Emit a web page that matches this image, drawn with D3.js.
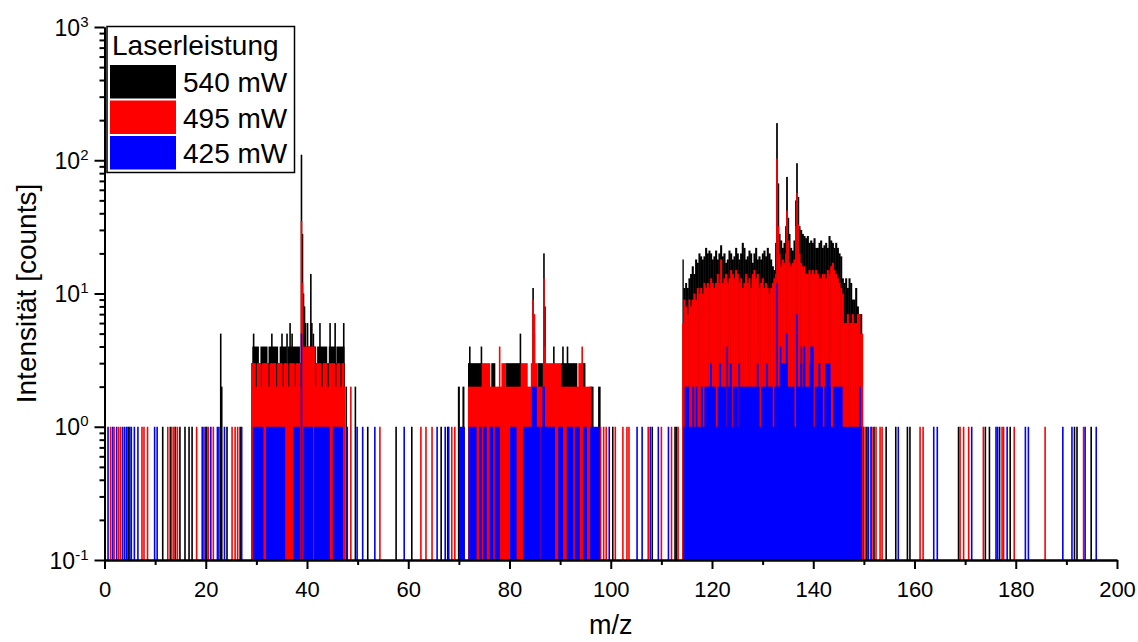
<!DOCTYPE html>
<html>
<head>
<meta charset="utf-8">
<script src="https://cdn.jsdelivr.net/npm/d3@7"></script>
<style>
  body { margin: 0; background: #fff; }
  svg { font-family: "Liberation Sans", Arial, sans-serif; }
</style>
</head>
<body>
<svg id="chart" width="1138" height="642"></svg>
<script>
// legend / series
var seriesNames = ["540 mW", "495 mW", "425 mW"];
var xTicks = [0, 20, 40, 60, 80, 100, 120, 140, 160, 180, 200];
var yTicks = [0.1, 1, 10, 100, 1000];
var yTickExp = ["-1", "0", "1", "2", "3"];

// single bins with 1 count (m/z)
var blackLines = [4.7, 11.5, 13.0, 14.0, 14.9, 15.9, 16.7, 17.3, 20.2, 24.2, 26.8,
  52.0, 57.6, 60.7, 66.5, 67.8, 100.4, 108.2, 112.7, 113.0,
  149.9, 150.6, 152.0, 154.4, 156.3, 158.6, 159.1, 168.7, 174.0, 174.8, 176.8, 178.9,
  191.6, 192.1, 194.9];
var redLines = [1.2, 1.9, 2.8, 3.2, 7.4, 7.8, 8.5, 12.5, 13.3, 13.7, 14.4, 18.2, 19.6,
  20.5, 21.5, 25.2, 25.8, 26.3, 54.4, 62.5, 63.5, 64.7, 68.6, 69.2,
  98.0, 98.6, 99.1, 100.9, 102.4, 103.2, 103.6, 107.4, 110.0, 112.0, 113.3,
  150.25, 151.6, 152.4, 153.2, 153.6, 161.1, 161.7, 169.0, 169.7, 170.7, 173.6,
  177.3, 177.6, 179.7, 185.8, 193.4];
var blueLines = [0.7, 1.6, 2.4, 3.6, 4.0, 4.4, 5.0, 5.3, 5.9, 6.6, 9.9, 10.4, 19.3,
  19.9, 21.0, 22.3, 22.6, 23.7, 27.1, 49.9, 51.0, 53.4, 59.2, 65.7, 67.3, 68.0,
  99.7, 105.2, 106.2, 107.8, 109.4, 111.4, 150.9, 151.4, 156.8, 163.8, 164.5,
  171.3, 176.1, 176.4, 178.3, 181.9, 182.5, 189.3, 191.1, 193.7, 195.9];

// [from m/z, to m/z, counts]
var blackBars = [
  [22.8, 23.0, 5], [23.0, 23.2, 2],
  [29.0, 47.5, 3],
  [29.2, 30.5, 4], [30.8, 32.2, 4], [32.4, 34.3, 4], [34.6, 36.0, 4], [36.2, 38.6, 4],
  [39.2, 41.8, 4], [42.0, 44.0, 4], [44.3, 45.6, 4], [45.8, 47.4, 4],
  [29.3, 29.5, 5], [32.9, 33.1, 5], [34.9, 35.1, 5], [35.9, 36.1, 5], [36.5, 36.7, 6],
  [36.9, 37.1, 5],
  [38.75, 38.95, 110], [38.95, 39.15, 28], [39.15, 39.35, 10], [39.35, 39.55, 8],
  [39.55, 39.75, 6], [39.95, 40.15, 6], [40.6, 40.8, 14], [40.8, 41.0, 6], [41.1, 41.3, 5],
  [42.4, 42.6, 6], [44.4, 44.6, 6], [45.4, 45.6, 6], [47.1, 47.3, 6],
  [47.6, 47.8, 2], [49.4, 49.6, 2],
  [69.8, 70.2, 2], [70.7, 71.1, 2], [95.8, 96.6, 2], [97.5, 98.0, 2],
  [71.8, 74.6, 3], [76.4, 77.2, 3], [79.3, 82.2, 3], [85.6, 86.6, 3], [90.2, 93.4, 3],
  [94.4, 95.0, 3],
  [72.0, 72.2, 4], [74.3, 74.5, 4], [82.0, 82.2, 5], [88.6, 88.8, 4], [90.4, 90.6, 4],
  [91.3, 91.5, 4],
  [84.5, 84.75, 11], [84.75, 85.0, 5], [86.65, 86.85, 20], [86.85, 87.05, 8]
];
var redBars = [
  [29.0, 47.6, 2],
  [29.0, 29.9, 3], [30.1, 30.9, 3], [31.1, 32.4, 3], [32.6, 33.9, 3], [34.1, 35.2, 3],
  [35.4, 36.3, 3], [36.5, 37.6, 3], [37.8, 38.7, 3], [39.0, 41.6, 3], [41.8, 42.9, 3],
  [43.1, 44.1, 3], [44.3, 45.6, 3], [45.8, 46.6, 3], [46.8, 47.4, 3],
  [39.15, 41.6, 4],
  [38.75, 38.95, 35], [38.95, 39.15, 12],
  [48.5, 48.7, 2],
  [71.8, 96.2, 2],
  [74.5, 76.2, 3], [78.4, 79.3, 3], [82.2, 83.6, 3], [84.2, 85.6, 3], [86.7, 90.2, 3],
  [93.6, 94.4, 3],
  [77.9, 78.2, 4], [94.2, 94.4, 4],
  [84.5, 84.75, 9], [84.75, 85.1, 7], [86.65, 86.85, 13], [86.85, 87.1, 4]
];
var blueBars = [
  [29.3, 31.4, 1], [31.9, 35.7, 1], [37.3, 38.6, 1], [38.75, 38.95, 5], [39.3, 41.2, 1],
  [41.4, 44.5, 1], [45.1, 47.1, 1], [47.8, 48.1, 1],
  [70.2, 71.2, 1], [71.9, 73.5, 1], [74.0, 74.5, 1], [74.8, 75.5, 1], [76.1, 76.8, 1],
  [77.1, 78.1, 1], [80.1, 81.4, 1], [82.7, 86.0, 1], [86.1, 89.0, 1], [89.6, 90.6, 1],
  [91.3, 92.6, 1], [92.9, 93.9, 1], [94.6, 95.3, 1], [95.9, 97.9, 1],
  [84.4, 85.4, 2], [86.5, 87.0, 2],
  [114.3, 149.6, 1],
  [114.6, 115.5, 2], [116.1, 116.5, 2], [116.8, 117.1, 2], [117.8, 118.2, 2],
  [118.5, 120.8, 2], [121.1, 122.8, 2], [123.1, 123.8, 2], [124.1, 125.1, 2],
  [125.4, 129.4, 2], [129.7, 132.0, 2], [132.3, 136.3, 2], [136.6, 139.9, 2],
  [140.3, 141.9, 2], [142.2, 143.5, 2], [143.9, 145.8, 2], [149.1, 149.3, 2],
  [119.6, 119.95, 3], [121.5, 121.75, 3], [123.5, 123.9, 3], [125.2, 125.55, 3],
  [128.85, 129.2, 3], [130.7, 130.95, 3], [133.4, 135.0, 3], [137.4, 137.8, 3],
  [138.0, 138.4, 3], [139.3, 139.5, 3], [141.0, 141.4, 3], [142.35, 143.4, 3],
  [122.85, 123.05, 4], [133.4, 133.6, 4], [137.5, 137.7, 4], [138.1, 138.3, 4],
  [139.4, 139.6, 4], [139.75, 139.95, 4],
  [132.7, 132.95, 12], [134.6, 134.85, 5], [136.62, 136.88, 7]
];

// 114-150 envelope: [m/z, counts] until next entry
var blackEnv = [
  [114.16, 18], [114.35, 11], [114.7, 12], [115.01, 11], [115.34, 13], [115.67, 14],
  [116.0, 16], [116.33, 14], [116.66, 18], [116.99, 17], [117.32, 20], [117.65, 19],
  [117.98, 18], [118.31, 19], [118.64, 22], [118.97, 20], [119.3, 21], [119.62, 20],
  [119.95, 18], [120.28, 19], [120.61, 21], [120.94, 18], [121.27, 20], [121.6, 23],
  [121.93, 19], [122.26, 20], [122.59, 17], [122.92, 18], [123.25, 21], [123.58, 20],
  [123.91, 18], [124.24, 19], [124.57, 22], [124.9, 20], [125.22, 18], [125.55, 20],
  [125.88, 24], [126.21, 22], [126.54, 18], [126.87, 19], [127.2, 21], [127.53, 20],
  [127.86, 17], [128.19, 20], [128.52, 22], [128.85, 18], [129.18, 19], [129.51, 18],
  [129.84, 20], [130.16, 21], [130.49, 19], [130.82, 22], [131.15, 20], [131.48, 18],
  [131.81, 16], [132.14, 15], [132.47, 24], [132.67, 190], [132.93, 67], [133.2, 28],
  [133.46, 25], [133.79, 22], [134.12, 24], [134.45, 32], [134.64, 75], [134.91, 37],
  [135.17, 28], [135.43, 22], [135.76, 21], [136.09, 25], [136.42, 50], [136.62, 95],
  [136.88, 53], [137.15, 32], [137.41, 30], [137.74, 28], [138.07, 27], [138.4, 26],
  [138.73, 27], [139.06, 24], [139.39, 25], [139.72, 24], [140.05, 26], [140.38, 22],
  [140.71, 22], [141.04, 24], [141.36, 25], [141.69, 22], [142.02, 23], [142.35, 24],
  [142.68, 22], [143.01, 27], [143.34, 25], [143.67, 24], [144.0, 22], [144.33, 24],
  [144.66, 22], [144.99, 20], [145.32, 19], [145.65, 13], [145.97, 12], [146.3, 13],
  [146.63, 11], [146.96, 13], [147.29, 12], [147.62, 9], [147.95, 9], [148.28, 11],
  [148.61, 8], [148.94, 7], [149.27, 7], [149.6, null]
];
var redEnv = [
  [114.1, 6], [114.35, 9], [114.7, 8], [115.01, 7], [115.34, 9], [115.67, 8],
  [116.0, 9], [116.33, 10], [116.66, 9], [116.99, 11], [117.32, 10], [117.65, 11],
  [117.98, 10], [118.31, 12], [118.64, 11], [118.97, 12], [119.3, 11], [119.62, 13],
  [119.95, 12], [120.28, 11], [120.61, 12], [120.94, 14], [121.27, 12], [121.6, 18],
  [121.93, 12], [122.26, 13], [122.59, 14], [122.92, 12], [123.25, 13], [123.58, 15],
  [123.91, 14], [124.24, 13], [124.57, 15], [124.9, 14], [125.22, 12], [125.55, 13],
  [125.88, 11], [126.21, 12], [126.54, 14], [126.87, 12], [127.2, 13], [127.53, 11],
  [127.86, 14], [128.19, 15], [128.52, 13], [128.85, 14], [129.18, 11], [129.51, 12],
  [129.84, 13], [130.16, 11], [130.49, 12], [130.82, 11], [131.15, 10], [131.48, 11],
  [131.81, 12], [132.14, 13], [132.47, 14], [132.67, 103], [132.93, 32], [133.2, 20],
  [133.46, 16], [133.79, 18], [134.12, 17], [134.45, 20], [134.64, 42], [134.91, 25],
  [135.17, 17], [135.43, 16], [135.76, 17], [136.09, 18], [136.42, 32], [136.62, 57],
  [136.88, 33], [137.15, 20], [137.41, 17], [137.74, 16], [138.07, 16], [138.4, 14],
  [138.73, 14], [139.06, 15], [139.39, 14], [139.72, 15], [140.05, 14], [140.38, 15],
  [140.71, 14], [141.04, 13], [141.36, 13], [141.69, 14], [142.02, 14], [142.35, 13],
  [142.68, 15], [143.01, 14], [143.34, 16], [143.67, 17], [144.0, 15], [144.33, 14],
  [144.66, 13], [144.99, 12], [145.32, 11], [145.65, 10], [145.97, 6], [146.3, 6],
  [146.63, 7], [146.96, 6], [147.29, 6], [147.62, 7], [147.95, 6], [148.28, 6],
  [148.61, 7], [148.94, 7], [149.27, 5], [149.8, null]
];

var colors = ["#000000", "#ff0000", "#0000ff"];
var lineW = 1.6;

var svg = d3.select("#chart");

var x = d3.scaleLinear().domain([0, 200]).range([104.5, 1117]);
var y = d3.scaleLog().domain([0.1, 1000]).range([560, 27]);
var y0 = y(0.1);

function envBars(env) {
  return d3.pairs(env).map(p => [p[0][0], p[1][0], p[0][1]]);
}

function drawSeries(color, lines, bars, env) {
  var g = svg.append("g").attr("fill", color);
  if (env) {
    g.append("g").selectAll("rect")
      .data(envBars(env))
      .join("rect")
      .attr("x", d => x(d[0]))
      .attr("width", d => x(d[1]) - x(d[0]) + 0.4)
      .attr("y", d => y(d[2]))
      .attr("height", d => y0 - y(d[2]));
  }
  g.append("g").selectAll("rect")
    .data(bars)
    .join("rect")
    .attr("x", d => x(d[0]))
    .attr("width", d => Math.max(x(d[1]) - x(d[0]), lineW))
    .attr("y", d => y(d[2]))
    .attr("height", d => y0 - y(d[2]));
  g.append("g").selectAll("rect")
    .data(lines)
    .join("rect")
    .attr("x", d => x(d) - lineW / 2)
    .attr("width", lineW)
    .attr("y", y(1))
    .attr("height", y0 - y(1));
}

drawSeries(colors[0], blackLines, blackBars, blackEnv);
drawSeries(colors[1], redLines, redBars, redEnv);
drawSeries(colors[2], blueLines, blueBars, null);

/* Axes */
var minorX = d3.range(10, 200, 20);
var minorY = [];
[0.1, 1, 10, 100].forEach(function(d) {
  for (var k = 2; k <= 9; k++) minorY.push(d * k);
});

function styleAxis(g) {
  g.select(".domain").attr("stroke-width", 2);
  g.selectAll(".tick line").attr("stroke-width", 2);
}

svg.append("g")
  .attr("transform", `translate(0, ${y0})`)
  .call(d3.axisBottom(x).tickValues(minorX).tickSize(5).tickSizeOuter(0).tickFormat(""))
  .call(styleAxis);

svg.append("g")
  .attr("class", "x axis")
  .attr("transform", `translate(0, ${y0})`)
  .call(d3.axisBottom(x).tickValues(xTicks).tickSize(9).tickSizeOuter(0).tickPadding(12))
  .call(styleAxis)
  .selectAll("text")
  .attr("font-size", 22)
  .attr("font-family", "Liberation Sans, Arial, sans-serif")
  .attr("fill", "#000");

svg.append("g")
  .attr("transform", `translate(${x(0)}, 0)`)
  .call(d3.axisLeft(y).tickValues(minorY).tickSize(5).tickSizeOuter(0).tickFormat(""))
  .call(styleAxis);

var yAxisG = svg.append("g")
  .attr("class", "y axis")
  .attr("transform", `translate(${x(0)}, 0)`)
  .call(d3.axisLeft(y).tickValues(yTicks).tickSize(10).tickSizeOuter(0).tickFormat(""))
  .call(styleAxis);

yAxisG.selectAll(".tick").each(function(d, i) {
  var t = d3.select(this).append("text")
    .attr("x", -16)
    .attr("y", 8)
    .attr("text-anchor", "end")
    .attr("fill", "#000")
    .attr("font-size", 23)
    .attr("font-family", "Liberation Sans, Arial, sans-serif");
  t.append("tspan").text("10");
  t.append("tspan").attr("dy", -9).attr("font-size", 15).text(yTickExp[i]);
});

/* Axis titles */
svg.append("text")
  .attr("x", (x(0) + x(200)) / 2)
  .attr("y", 634)
  .attr("text-anchor", "middle")
  .attr("font-size", 27)
  .text("m/z");

svg.append("text")
  .attr("transform", `translate(36, ${(y(1000) + y0) / 2}) rotate(-90)`)
  .attr("text-anchor", "middle")
  .attr("font-size", 28)
  .text("Intensität [counts]");

/* Legend */
var legend = svg.append("g").attr("class", "legend");
legend.append("rect")
  .attr("x", 107).attr("y", 26.5)
  .attr("width", 187.5).attr("height", 146)
  .attr("fill", "#fff")
  .attr("stroke", "#000")
  .attr("stroke-width", 1.5);
legend.append("text")
  .attr("x", 112).attr("y", 55)
  .attr("font-size", 28)
  .text("Laserleistung");
var items = legend.selectAll(".item")
  .data(seriesNames)
  .join("g")
  .attr("class", "item")
  .attr("transform", (d, i) => `translate(110, ${65 + i * 35.5})`);
items.append("rect")
  .attr("width", 66).attr("height", 33.5)
  .attr("fill", (d, i) => colors[i]);
items.append("text")
  .attr("x", 73).attr("y", 27)
  .attr("font-size", 28)
  .text(d => d);
</script>
</body>
</html>
